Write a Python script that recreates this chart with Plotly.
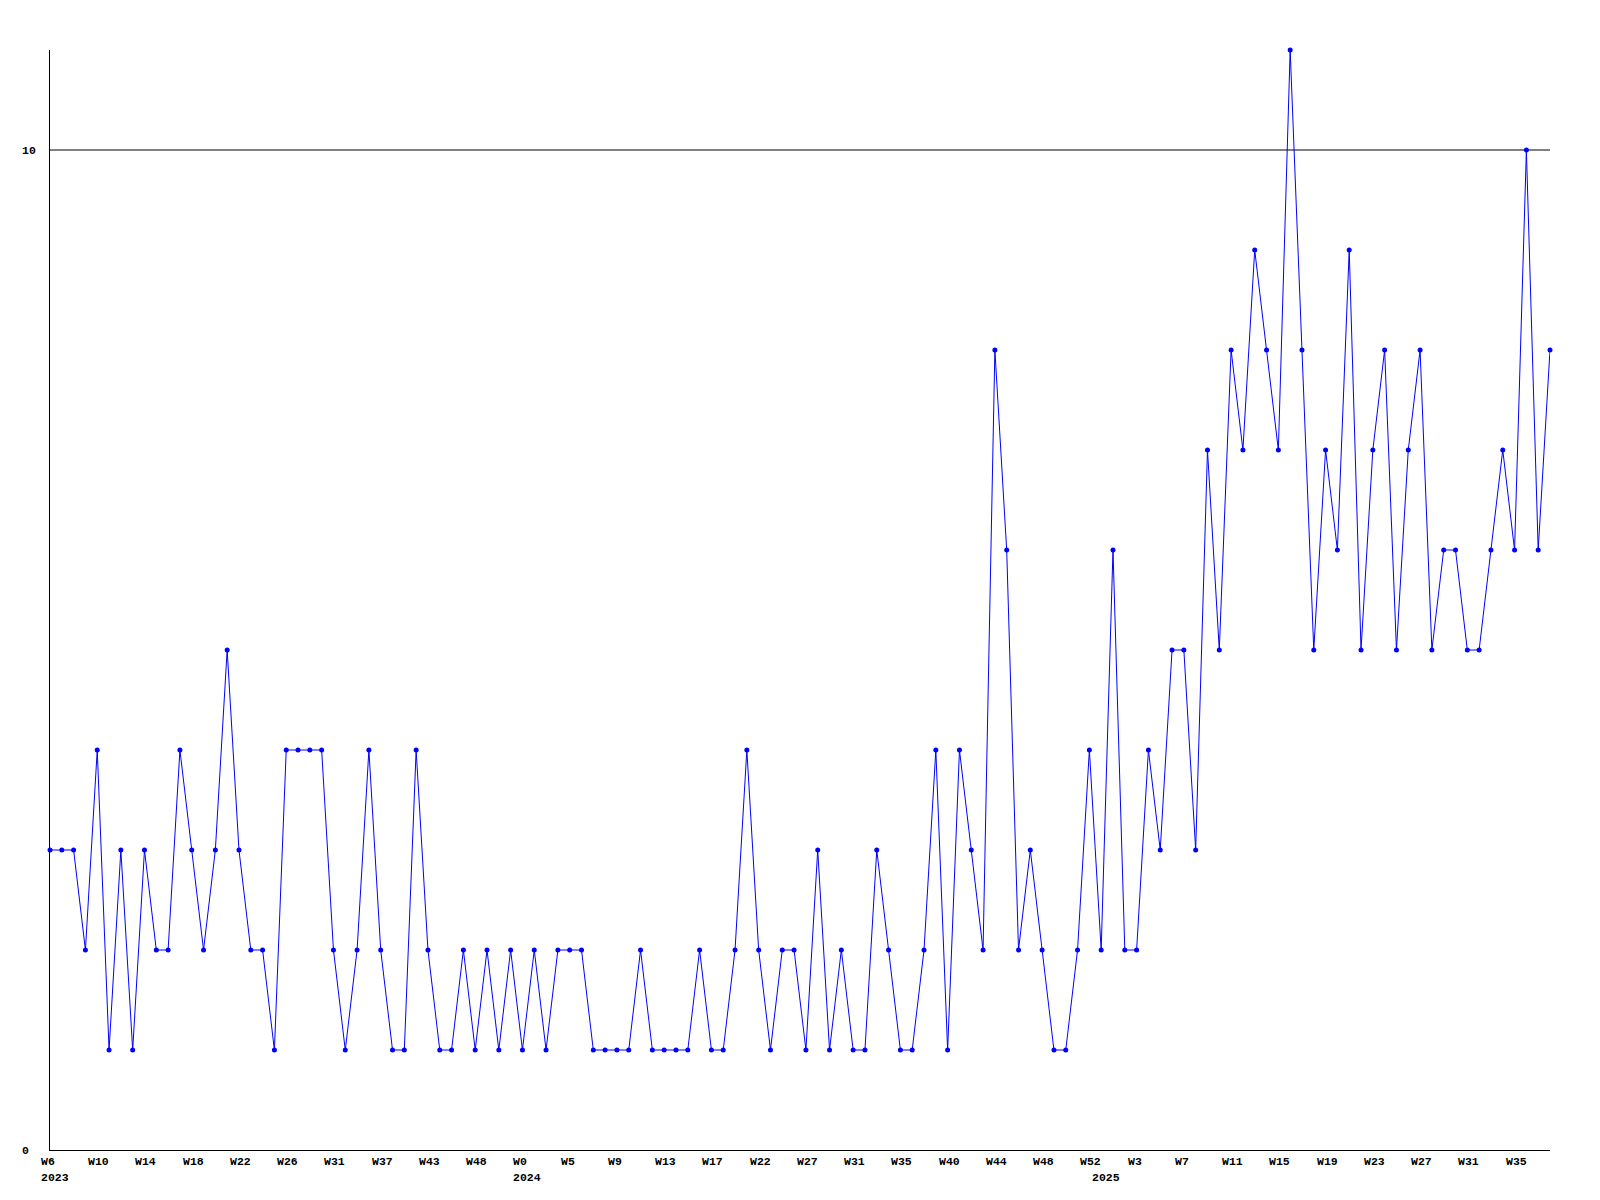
import plotly.graph_objects as go

values = [3, 3, 3, 2, 4, 1, 3, 1, 3, 2,
          2, 4, 3, 2, 3, 5, 3, 2, 2, 1,
          4, 4, 4, 4, 2, 1, 2, 4, 2, 1,
          1, 4, 2, 1, 1, 2, 1, 2, 1, 2,
          1, 2, 1, 2, 2, 2, 1, 1, 1, 1,
          2, 1, 1, 1, 1, 2, 1, 1, 2, 4,
          2, 1, 2, 2, 1, 3, 1, 2, 1, 1,
          3, 2, 1, 1, 2, 4, 1, 4, 3, 2,
          8, 6, 2, 3, 2, 1, 1, 2, 4, 2,
          6, 2, 2, 4, 3, 5, 5, 3, 7, 5,
          8, 7, 9, 8, 7, 11, 8, 5, 7, 6,
          9, 5, 7, 8, 5, 7, 8, 5, 6, 6,
          5, 5, 6, 7, 6, 10, 6, 8]

week_labels = ["W6", "W10", "W14", "W18", "W22", "W26", "W31", "W37", "W43", "W48",
               "W0", "W5", "W9", "W13", "W17", "W22", "W27", "W31", "W35", "W40",
               "W44", "W48", "W52", "W3", "W7", "W11", "W15", "W19", "W23", "W27",
               "W31", "W35"]
week_label_step = 4

year_labels = ["2023", "2024", "2025"]
year_label_pos = [0, 40, 89]

y_tick_values = [0, 10]
y_max = 11

x = list(range(len(values)))

FONT = dict(family="Liberation Mono, DejaVu Sans Mono, monospace", size=11.5, color="#000000")

fig = go.Figure()
fig.add_trace(go.Scatter(
    x=x, y=values, mode="lines+markers",
    line=dict(color="#0000ff", width=1),
    marker=dict(color="#0000ff", size=5, symbol="circle"),
    cliponaxis=False, hoverinfo="skip",
))

annotations = []
for i, lab in enumerate(week_labels):
    annotations.append(dict(
        x=i * week_label_step, y=0, xref="x", yref="paper",
        text="<b>" + lab + "</b>", showarrow=False,
        xanchor="left", yanchor="middle", xshift=-11, yshift=-11,
        font=FONT,
    ))
for lab, pos in zip(year_labels, year_label_pos):
    annotations.append(dict(
        x=pos, y=0, xref="x", yref="paper",
        text="<b>" + lab + "</b>", showarrow=False,
        xanchor="left", yanchor="middle", xshift=-11, yshift=-27,
        font=FONT,
    ))
for v in y_tick_values:
    annotations.append(dict(
        x=0, y=v, xref="paper", yref="y",
        text="<b>" + str(v) + "</b>", showarrow=False,
        xanchor="left", yanchor="middle", xshift=-30,
        font=FONT,
    ))

shapes = [dict(type="line", xref="paper", yref="y", x0=0, x1=1, y0=v, y1=v,
               line=dict(color="#000000", width=1), layer="below")
          for v in y_tick_values if v != 0]

fig.update_layout(
    width=1600, height=1200,
    margin=dict(l=50, r=50, t=50, b=50, pad=0),
    paper_bgcolor="#ffffff", plot_bgcolor="#ffffff",
    showlegend=False,
    annotations=annotations,
    shapes=shapes,
    xaxis=dict(range=[0, len(values) - 1], showgrid=False, zeroline=False,
               showline=True, linecolor="#000000", linewidth=1,
               showticklabels=False, ticks=""),
    yaxis=dict(range=[0, y_max], showgrid=False, zeroline=False,
               showline=True, linecolor="#000000", linewidth=1,
               showticklabels=False, ticks=""),
)

fig.write_html("out.html", post_script="document.body.style.margin='0';",
               config={"displayModeBar": False})
